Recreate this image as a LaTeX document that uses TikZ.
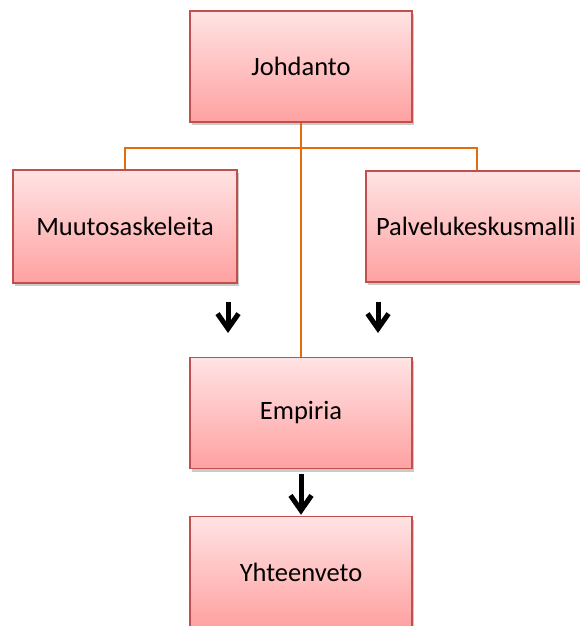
\documentclass[tikz,border=0pt]{standalone}
\usepackage{fontspec}
\setmainfont{Carlito}
\usetikzlibrary{shadows,arrows.meta}
\definecolor{boxedge}{HTML}{C0504D}
\definecolor{boxtop}{HTML}{FFE3E4}
\definecolor{boxbot}{HTML}{FFA1A1}
\definecolor{linkorange}{HTML}{E46C0A}
\tikzset{
  x=1pt, y=-1pt,
  topicbox/.style={draw=boxedge, line width=1.5pt, top color=boxtop, bottom color=boxbot,
    minimum width=222pt, minimum height=111pt, inner sep=0pt,
    font=\fontsize{26.5}{30}\selectfont,
    drop shadow={shadow xshift=2pt, shadow yshift=-3pt, opacity=0.35, fill=black!60}},
  orangelink/.style={draw=linkorange, line width=1.8pt},
  blackarrow/.style={draw=black, line width=5pt,
    -{Straight Barb[length=15pt, width=21pt, line width=5pt]},
    drop shadow={shadow xshift=1pt, shadow yshift=-2pt, opacity=0.3}},
}
\begin{document}
\begin{tikzpicture}
\useasboundingbox (0,0) rectangle (580,626);
\clip (0,0) rectangle (580,626);
% introduction box and the tree below it
\node[topicbox] (joh) at (301,66.5) {\raisebox{-2pt}{Johdanto}};
\node[topicbox, minimum width=224pt, minimum height=113pt] (muu) at (125,226.5) {\raisebox{-2pt}{Muutosaskeleita}};
\node[topicbox, text width=202pt, align=left] (pal) at (477,226.5) {\raisebox{-2pt}{Palvelukeskusmalli}};
\node[topicbox] (emp) at (301,413) {\raisebox{-2pt}{Empiria}};
\node[topicbox] (yht) at (301,572) {\raisebox{-2pt}{Yhteenveto}};
\coordinate (bar) at (301,148);
\draw[orangelink] (joh.south) -- (emp.north);
\draw[orangelink] (muu.north) |- (bar) -| (pal.north);
% step arrows
\coordinate (a1s) at (228,302);
\coordinate (a1e) at (228,333);
\coordinate (a2s) at (378,302);
\coordinate (a2e) at (378,333);
\draw[blackarrow] (a1s) -- (a1e);
\draw[blackarrow] (a2s) -- (a2e);
\draw[blackarrow] ([yshift=-5pt]emp.south) -- ([yshift=1pt]yht.north);
\end{tikzpicture}
\end{document}
